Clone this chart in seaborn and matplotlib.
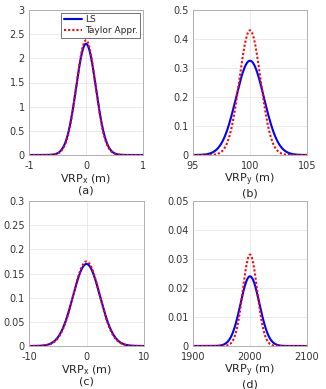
import numpy as np
import pandas as pd
import matplotlib
matplotlib.use("Agg")
import matplotlib.pyplot as plt
import seaborn as sns

# Read-off parameters of each curve (normal densities)
panel_labels = ["(a)", "(b)", "(c)", "(d)"]
xlabels = ["VRP$_\\mathrm{x}$ (m)", "VRP$_\\mathrm{y}$ (m)",
           "VRP$_\\mathrm{x}$ (m)", "VRP$_\\mathrm{y}$ (m)"]
means = [0.0, 100.0, 0.0, 2000.0]
ls_std = [0.1734, 1.227, 2.35, 16.6]
taylor_std = [0.168, 0.928, 2.28, 12.66]
xlims = [(-1, 1), (95, 105), (-10, 10), (1900, 2100)]
xticks = [[-1, 0, 1], [95, 100, 105], [-10, 0, 10], [1900, 2000, 2100]]
ylims = [(0, 3), (0, 0.5), (0, 0.3), (0, 0.05)]
yticks = [[0, 0.5, 1, 1.5, 2, 2.5, 3],
          [0, 0.1, 0.2, 0.3, 0.4, 0.5],
          [0, 0.05, 0.1, 0.15, 0.2, 0.25, 0.3],
          [0, 0.01, 0.02, 0.03, 0.04, 0.05]]
ytick_labels = [["0", "0.5", "1", "1.5", "2", "2.5", "3"],
                ["0", "0.1", "0.2", "0.3", "0.4", "0.5"],
                ["0", "0.05", "0.1", "0.15", "0.2", "0.25", "0.3"],
                ["0", "0.01", "0.02", "0.03", "0.04", "0.05"]]

sns.set_theme(style="whitegrid")
plt.rcParams['font.family'] = ['DejaVu Sans']
plt.rcParams['mathtext.default'] = 'regular'

fig = plt.figure(figsize=(3.26, 3.89), dpi=100)
W, H = 326, 389
boxes = [(29, 10, 143, 155), (193, 10, 307, 155),
         (29, 201, 144, 346), (193, 201, 307, 346)]

def npdf(x, m, s):
    return np.exp(-0.5 * ((x - m) / s) ** 2) / (s * np.sqrt(2 * np.pi))

for i in range(4):
    l, t, r, b = boxes[i]
    ax = fig.add_axes([l / W, 1 - b / H, (r - l) / W, (b - t) / H])
    x = np.linspace(xlims[i][0], xlims[i][1], 600)
    df = pd.DataFrame({
        "x": np.concatenate([x, x]),
        "y": np.concatenate([npdf(x, means[i], ls_std[i]),
                             npdf(x, means[i], taylor_std[i])]),
        "method": ["LS"] * len(x) + ["Taylor Appr."] * len(x),
    })
    sns.lineplot(data=df, x="x", y="y", hue="method", style="method",
                 palette={"LS": "#0000ff", "Taylor Appr.": "#ff0000"},
                 dashes={"LS": "", "Taylor Appr.": (1, 1)},
                 linewidth=1.5, ax=ax, legend=(i == 0))
    ax.set_xlim(*xlims[i])
    ax.set_ylim(*ylims[i])
    ax.set_xticks(xticks[i])
    ax.set_xticklabels([str(v) for v in xticks[i]])
    ax.set_yticks(yticks[i])
    ax.set_yticklabels(ytick_labels[i])
    ax.set_facecolor("white")
    ax.grid(True, color="#e6e6e6", linewidth=0.6)
    for sp in ax.spines.values():
        sp.set_color("#b0b0b0")
        sp.set_linewidth(0.7)
        sp.set_visible(True)
    ax.tick_params(axis="both", labelsize=7, colors="#333333", length=2,
                   direction="in")
    ax.tick_params(axis="x", pad=4)
    ax.tick_params(axis="y", pad=3)
    ax.set_xlabel(xlabels[i] + "\n" + panel_labels[i], fontsize=8,
                  color="#222222", labelpad=1, linespacing=1.0)
    ax.set_ylabel("")
    if i == 0:
        leg = ax.legend(loc="upper right", fontsize=6.5, frameon=True,
                        handlelength=2.0, borderpad=0.3, labelspacing=0.2,
                        handletextpad=0.3, borderaxespad=0.3, fancybox=False)
        leg.get_frame().set_edgecolor("#333333")
        leg.get_frame().set_linewidth(0.6)
        leg.set_title(None)

fig.savefig("out.png", dpi=100, facecolor="white")
